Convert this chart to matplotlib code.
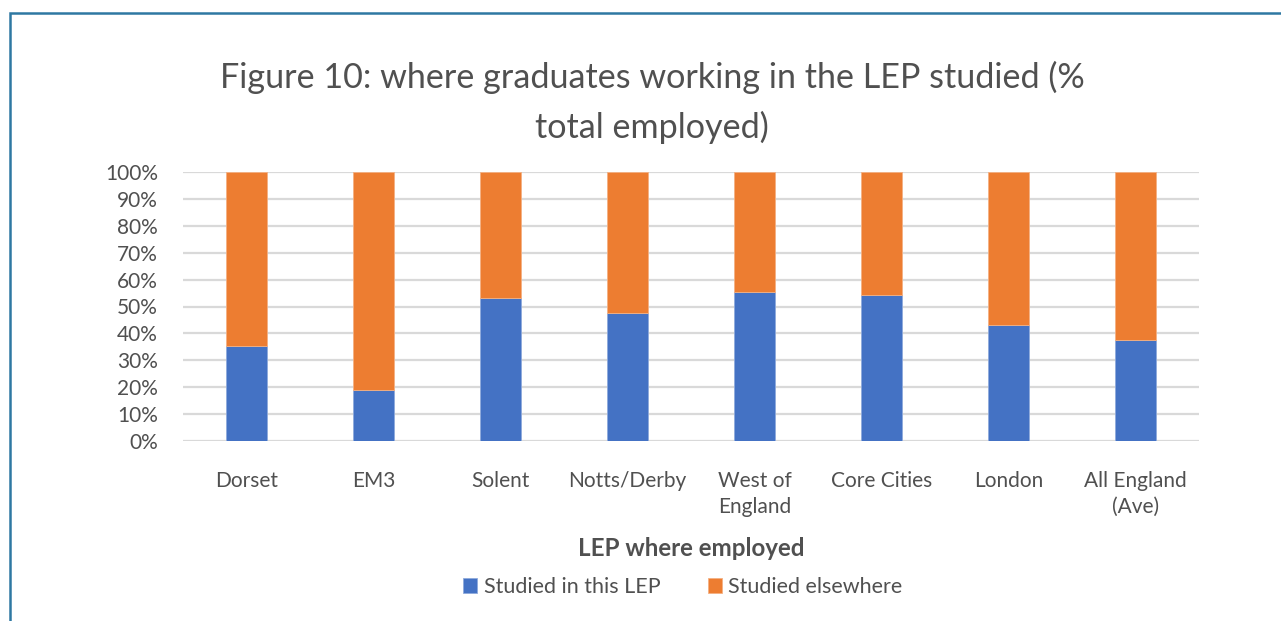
import numpy as np
import matplotlib
matplotlib.use('Agg')
import matplotlib.pyplot as plt
from matplotlib.patches import Rectangle

# --- data (% of graduates employed in each LEP) ---
categories = ['Dorset', 'EM3', 'Solent', 'Notts/Derby', 'West of\nEngland',
              'Core Cities', 'London', 'All England\n(Ave)']
studied_here = [35.2, 19.0, 53.3, 47.7, 55.5, 54.2, 43.1, 37.6]
studied_elsewhere = [100 - v for v in studied_here]
series_names = ['Studied in this LEP', 'Studied elsewhere']
y_ticks = [0, 10, 20, 30, 40, 50, 60, 70, 80, 90, 100]

BLUE = '#4472C4'
ORANGE = '#ED7D31'
TEXT = '#505050'
GRID = '#D9D9D9'

plt.rcParams['font.family'] = ['Lato', 'DejaVu Sans']

W, H = 1281, 621
fig = plt.figure(figsize=(W / 100, H / 100), dpi=100)

# outer chart frame (only left/top edges visible)
fig.patches.append(Rectangle((10 / W, -0.1), 1.2, 1 - 13 / H + 0.1,
                             transform=fig.transFigure, fill=False,
                             edgecolor='#2E78A2', linewidth=1.8, zorder=10))

ax = fig.add_axes([183 / W, 1 - 440.7 / H, (1199 - 183) / W, (440.7 - 172.3) / H])

x = np.arange(len(categories))
bw = 0.315
ax.bar(x, studied_here, bw, color=BLUE, edgecolor='#8FAADC', linewidth=0.6,
       label=series_names[0], zorder=3)
ax.bar(x, studied_elsewhere, bw, bottom=studied_here, color=ORANGE,
       edgecolor='#F4B183', linewidth=0.6, label=series_names[1], zorder=3)

ax.set_xlim(-0.5, len(categories) - 0.5)
ax.set_ylim(0, 100)
ax.set_yticks(y_ticks)
ax.set_yticklabels([f'{t}%' for t in y_ticks])
ax.set_xticks(x)
ax.set_xticklabels(categories, linespacing=1.35)
ax.grid(axis='y', color=GRID, linewidth=1.6, zorder=0)
ax.set_axisbelow(True)
for s in ax.spines.values():
    s.set_visible(False)
ax.tick_params(axis='both', length=0, colors=TEXT, labelsize=15)
ax.tick_params(axis='y', pad=18)
ax.tick_params(axis='x', pad=22)
for lbl in ax.get_xticklabels():
    lbl.set_verticalalignment('top')

fig.text(652 / W, 1 - 102.5 / H,
         'Figure 10: where graduates working in the LEP studied (%\ntotal employed)',
         ha='center', va='center', fontsize=24.6, color=TEXT, linespacing=1.6)

fig.text(691 / W, 1 - 548 / H, 'LEP where employed', ha='center', va='center',
         fontsize=17.4, fontweight='bold', color=TEXT)

fig.legend(loc='center', bbox_to_anchor=(683 / W, 1 - 587 / H), ncol=2,
           frameon=False, fontsize=15.5, handlelength=0.65, handleheight=0.65,
           handletextpad=0.3, columnspacing=2.2, labelcolor=TEXT)

fig.savefig('out.png', dpi=100, facecolor='white')
